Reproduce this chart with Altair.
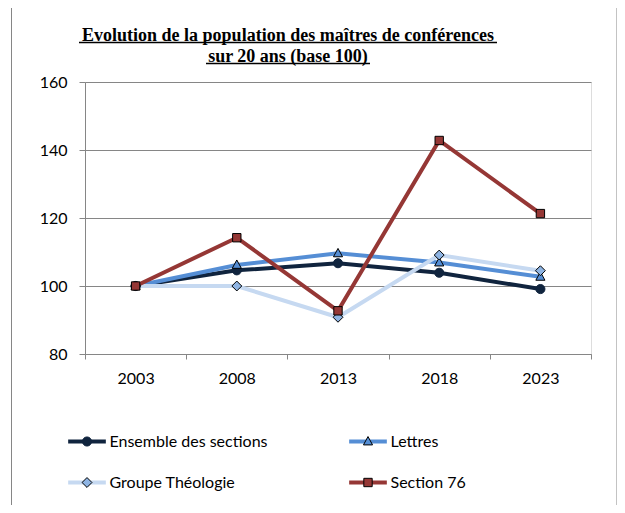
import altair as alt
import pandas as pd

years = ["2003", "2008", "2013", "2018", "2023"]
series_names = ["Ensemble des sections", "Lettres", "Groupe Théologie", "Section 76"]
ensemble = [100, 104.6, 106.7, 103.9, 99.1]
lettres = [100, 106.2, 109.6, 106.9, 102.7]
theologie = [100, 100, 90.8, 109.1, 104.5]
section76 = [100, 114.2, 92.7, 142.8, 121.3]
title_lines = ["Evolution de la population des maîtres de conférences", "sur 20 ans (base 100)"]
legend_col = [0, 1, 0, 1]
legend_row = [0, 0, 1, 1]

line_colors = ["#10243E", "#558ED5", "#C6D9F1", "#953735"]
fill_colors = ["#10243E", "#558ED5", "#8EB4E3", "#953735"]
stroke_colors = ["#10243E", "#000000", "#000000", "#000000"]
shape_paths = [
    "M-0.24,0A0.24,0.24,0,1,0,0.24,0A0.24,0.24,0,1,0,-0.24,0Z",
    "M0,-0.26L0.24,0.18L-0.24,0.18Z",
    "M0,-0.26L0.26,0L0,0.26L-0.26,0Z",
    "M-0.22,-0.22L0.22,-0.22L0.22,0.22L-0.22,0.22Z",
]

rows = []
for name, vals in zip(series_names, [ensemble, lettres, theologie, section76]):
    for y, v in zip(years, vals):
        rows.append({"series": name, "year": y, "value": v})
df = pd.DataFrame(rows)
leg_df = pd.DataFrame({"series": series_names, "col": legend_col, "row": legend_row})

FONT = "Lato"
GRAY = "#868686"
FS = 16

color_enc = alt.Color("series:N", sort=series_names, scale=alt.Scale(range=line_colors), legend=None)
shape_enc = alt.Shape("series:N", sort=series_names, scale=alt.Scale(range=shape_paths), legend=None)
fill_enc = alt.Fill("series:N", sort=series_names, scale=alt.Scale(range=fill_colors), legend=None)
stroke_enc = alt.Stroke("series:N", sort=series_names, scale=alt.Scale(range=stroke_colors), legend=None)

x_enc = alt.X(
    "year:N", sort=years, title=None,
    scale=alt.Scale(type="band", paddingInner=0, paddingOuter=0),
    axis=alt.Axis(tickBand="extent", labelAngle=0, domainColor=GRAY, tickColor=GRAY,
                  tickSize=5, labelPadding=11, labelFont=FONT, labelFontSize=FS,
                  labelColor="#000000", grid=False),
)
y_enc = alt.Y(
    "value:Q", title=None,
    scale=alt.Scale(domain=[80, 160], nice=False, zero=False),
    axis=alt.Axis(values=[80, 100, 120, 140, 160], grid=True, gridColor=GRAY,
                  domainColor=GRAY, tickColor=GRAY, tickSize=6, labelPadding=12,
                  labelFont=FONT, labelFontSize=FS, labelColor="#000000"),
)

base = alt.Chart(df)
lines = base.mark_line(strokeWidth=4).encode(x=x_enc, y=y_enc, color=color_enc)
points = base.mark_point(filled=True, size=1444, strokeWidth=1, opacity=1).encode(
    x=x_enc, y=y_enc, shape=shape_enc, fill=fill_enc, stroke=stroke_enc)

one = pd.DataFrame({"k": [0]})
title1 = alt.Chart(one).mark_text(
    text=title_lines[0], font="Liberation Serif", fontSize=18, fontWeight="bold",
    color="#000000", align="center", baseline="alphabetic").encode(
    x=alt.value(203), y=alt.value(-41))
title2 = alt.Chart(one).mark_text(
    text=title_lines[1], font="Liberation Serif", fontSize=18, fontWeight="bold",
    color="#000000", align="center", baseline="alphabetic").encode(
    x=alt.value(203), y=alt.value(-20))
underline1 = alt.Chart(one).mark_rule(color="#000000", strokeWidth=1.5).encode(
    x=alt.value(-6), x2=alt.value(412), y=alt.value(-39.5))
underline2 = alt.Chart(one).mark_rule(color="#000000", strokeWidth=1.5).encode(
    x=alt.value(121), x2=alt.value(285), y=alt.value(-18.5))
border = alt.Chart(one).mark_rect(fillOpacity=0, stroke=GRAY, strokeWidth=1).encode(
    x=alt.value(-73.5), x2=alt.value(532), y=alt.value(-77.5), y2=alt.value(440))

main = alt.layer(border, lines, points, title1, title2, underline1, underline2)

lx = alt.X("col:Q", scale=alt.Scale(domain=[0, 1], range=[2, 283]), axis=None)
ly = alt.Y("row:Q", scale=alt.Scale(domain=[0, 1], range=[359.5, 400.5]), axis=None)
leg_base = alt.Chart(leg_df)
leg_line = leg_base.mark_point(shape="M-1,0L1,0", size=1420, strokeWidth=4, opacity=1,
                               filled=False).encode(x=lx, y=ly, color=color_enc)
leg_mark = leg_base.mark_point(filled=True, size=1444, strokeWidth=1, opacity=1).encode(
    x=lx, y=ly, shape=shape_enc, fill=fill_enc, stroke=stroke_enc)
leg_text = leg_base.mark_text(align="left", baseline="middle", dx=22.5, font=FONT,
                              fontSize=FS, color="#000000").encode(
    x=lx, y=ly, text="series:N")
legend_layer = alt.layer(leg_line, leg_mark, leg_text)

chart = alt.layer(main, legend_layer).resolve_scale(
    x="independent", y="independent"
).properties(
    width=506, height=272,
    autosize=alt.AutoSizeParams(type="none"),
    padding={"left": 77, "top": 74, "right": 26, "bottom": 151},
).configure_view(stroke=None).configure(background="white")

chart.save("out.html", embed_options={"renderer": "svg", "actions": False})
